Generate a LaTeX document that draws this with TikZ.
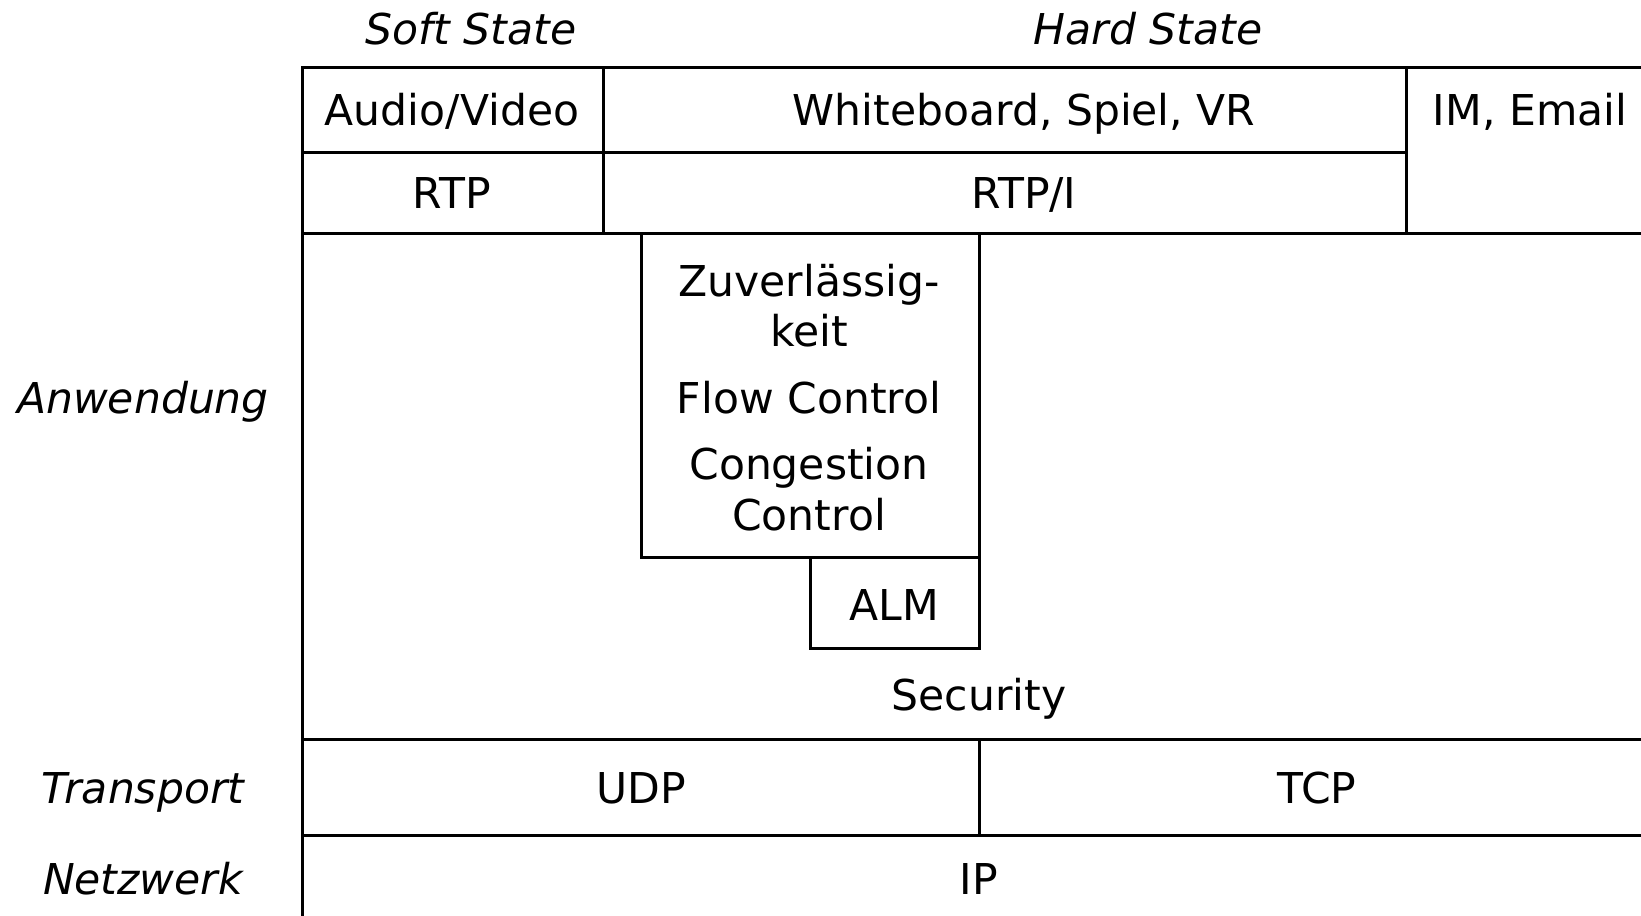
\documentclass[tikz,border=0pt]{standalone}
\usepackage{fontspec}
\setmainfont{DejaVu Sans}
\begin{document}
\begin{tikzpicture}[x=0.5pt,y=-0.5pt,
  ln/.style={line width=1.5pt, line cap=rect},
  lbl/.style={inner sep=0pt, anchor=base, font=\fontsize{21.25}{25.5}\selectfont},
  ilbl/.style={lbl, font=\fontsize{21.25}{25.5}\selectfont\itshape}]
\useasboundingbox (0,0) rectangle (1641,915);
% grid lines
\draw[ln] (302,915) -- (302,68) -- (1641,68);
\draw[ln] (302,152) -- (1406,152);
\draw[ln] (302,233) -- (1641,233);
\draw[ln] (603,68) -- (603,233);
\draw[ln] (1406,68) -- (1406,233);
\draw[ln] (641.5,233) -- (641.5,557.5) -- (979,557.5);
\draw[ln] (979,233) -- (979,648.5) -- (810,648.5) -- (810,557.5);
\draw[ln] (302,739) -- (1641,739);
\draw[ln] (979,739) -- (979,835);
\draw[ln] (302,835) -- (1641,835);
% labels
\node[ilbl] (soft) at (471,44.5) {Soft State};
\node[ilbl] (hard) at (1148,44.5) {Hard State};
\node[ilbl] (anw) at (143,413) {Anwendung};
\node[ilbl] (trans) at (143,803.5) {Transport};
\node[ilbl] (netz) at (143,894.5) {Netzwerk};
\node[lbl] (av) at (452,125.5) {Audio/Video};
\node[lbl] (wb) at (1024,125.5) {Whiteboard, Spiel, VR};
\node[lbl] (im) at (1530,125.5) {IM, Email};
\node[lbl] (rtp) at (452,208) {RTP};
\node[lbl] (rtpi) at (1024,208) {RTP/I};
\node[lbl] (zuv1) at (809,296) {Zuverlässig-};
\node[lbl] (zuv2) at (809,346) {keit};
\node[lbl] (flow) at (809,413) {Flow Control};
\node[lbl] (cong1) at (809,479) {Congestion};
\node[lbl] (cong2) at (809,530) {Control};
\node[lbl] (alm) at (894,620.5) {ALM};
\node[lbl] (sec) at (979,710.5) {Security};
\node[lbl] (udp) at (641,803.5) {UDP};
\node[lbl] (tcp) at (1317,803.5) {TCP};
\node[lbl] (ip) at (979,894.5) {IP};
\end{tikzpicture}
\end{document}
